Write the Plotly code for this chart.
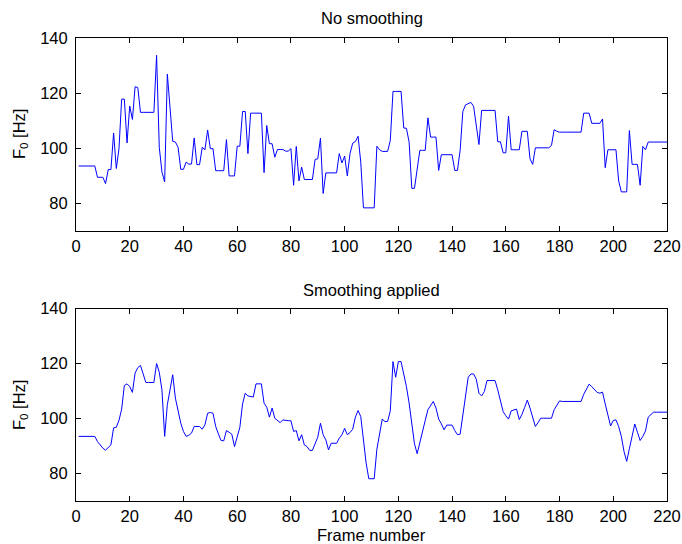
import plotly.graph_objects as go

frames = list(range(1, 221))

f0_raw = [
    93.5, 93.5, 93.5, 93.5, 93.5, 93.5, 93.5, 89.4, 89.4, 89.4,
    87.1, 92.2, 92.2, 105.5, 92.6, 99.8, 117.8, 117.8, 101.9, 115.3,
    110.4, 122.3, 122.0, 113, 113, 113, 113, 113, 113, 133.7,
    100.3, 91.3, 87.7, 126.9, 116, 102.5, 102.2, 100.3, 92.3, 92.3,
    94.9, 94.2, 94.2, 103.7, 94, 94, 100.3, 99.4, 106.6, 99.8,
    99.8, 91.8, 91.8, 91.8, 91.8, 103.1, 89.9, 89.9, 89.9, 100.7,
    100.7, 113.3, 113.3, 98, 112.7, 112.7, 112.7, 112.7, 112.7, 91.1,
    108.2, 101.6, 101.6, 96.7, 99.5, 99.5, 99.5, 98.9, 98.9, 99.8,
    86.5, 100.6, 88.1, 93.1, 88.6, 88.6, 88.6, 88.6, 95.9, 96.1,
    103.6, 83.5, 91, 91, 91, 91, 91, 98, 94.6, 97.1,
    89.9, 98, 101.8, 102.4, 104.3, 94.9, 78.3, 78.3, 78.3, 78.3,
    78.3, 100.7, 99.4, 98.8, 98.8, 98.8, 102.8, 120.6, 120.6, 120.6,
    120.6, 107.3, 107.2, 102.2, 85.4, 85.4, 92.3, 99.2, 99.2, 99.2,
    111, 104, 104, 104, 91.9, 97.6, 97.6, 97.6, 97.6, 97.6,
    91.9, 91.9, 99.2, 113.3, 115.7, 116.3, 116.6, 115.2, 108.8, 101.3,
    113.7, 113.7, 113.7, 113.7, 113.7, 113.7, 102.3, 102.3, 98.3, 98.3,
    111.6, 99.4, 99.4, 99.4, 99.4, 106.1, 106.1, 106.1, 96.1, 94.1,
    100.1, 100.1, 100.1, 100.1, 100.1, 100.1, 101, 106.7, 106.1, 105.8,
    105.8, 105.8, 105.8, 105.8, 105.8, 105.8, 105.8, 105.8, 112.7, 112.7,
    112.7, 109, 109, 109, 109, 110.6, 92.9, 99.4, 99.4, 99.4,
    99.4, 88.1, 84.1, 84.1, 84.1, 106.4, 94.1, 94.1, 94.1, 86.5,
    100.6, 99.4, 102.2, 102.2, 102.2, 102.2, 102.2, 102.2, 102.2, 102.2,
]

f0_smooth = [
    93.5, 93.5, 93.5, 93.5, 93.5, 93.5, 93.5, 91.6, 90.2, 89.2,
    88.5, 89.5, 90.4, 96.6, 96.8, 99.3, 103.4, 112, 112.6, 111.6,
    109.5, 116.5, 118.5, 119.3, 116.1, 113.1, 113.1, 113.1, 113.1, 120,
    116.8, 110.4, 93.5, 105, 110.7, 115.9, 107.4, 102.2, 98.3, 95.3,
    93.5, 93.9, 94.7, 97.1, 97.1, 97.1, 96.1, 97.7, 101.9, 102.2,
    101.9, 97.1, 94.4, 92, 91.9, 95.6, 95, 94.3, 89.8, 93.2,
    96.8, 105.3, 109.2, 108.2, 108, 107.8, 112.6, 112.6, 112.6, 105.6,
    104.1, 100.5, 103.8, 100.1, 99.3, 98.5, 99.5, 99.3, 99.2, 99.2,
    95.3, 95.6, 91.9, 94.1, 90.4, 89.8, 88.4, 88.4, 90.7, 93.2,
    98.3, 94.1, 92.2, 88.6, 91, 91, 91, 92.8, 94.1, 96.4,
    94.1, 94.9, 96.1, 100.5, 102.9, 100.7, 91.3, 83.8, 78.1, 78.1,
    78.1, 88.8, 94.3, 99.8, 98.9, 98.9, 102.8, 120.7, 115, 120.7,
    120.7, 116.5, 111.6, 105.6, 98.1, 90.8, 87.2, 91.6, 96.1, 99.3,
    103.2, 104.7, 106.2, 103.8, 99.8, 98.1, 95.9, 97.6, 97.6, 97.6,
    95.6, 94.1, 94.3, 101.9, 109.2, 115, 116.2, 116.2, 114.3, 109.2,
    108.2, 109.8, 113.8, 113.8, 113.8, 113.8, 110.4, 106.2, 102.5, 101,
    99.8, 102.8, 103.2, 103.4, 99.6, 101.5, 104, 106.7, 103.8, 100.1,
    97.1, 98.5, 100.1, 100.1, 100.1, 100.1, 100.1, 103.2, 105, 106.4,
    106.2, 106.2, 106.2, 106.2, 106.2, 106.2, 106.2, 106.2, 108.8, 110.7,
    112.5, 111.6, 110.7, 109.5, 109.2, 109.6, 105.3, 101.3, 97.3, 99.3,
    99.5, 97.1, 93.5, 88, 84.4, 89, 94, 98, 95, 92,
    93.5, 95.5, 100.5, 101.5, 102.3, 102.3, 102.3, 102.3, 102.3, 102.3,
]

titles = ["No smoothing", "Smoothing applied"]
x_label = "Frame number"
y_label = "F<sub>0</sub> [Hz]"
x_ticks = [0, 20, 40, 60, 80, 100, 120, 140, 160, 180, 200, 220]
y_ticks = [80, 100, 120, 140]

FONT = "Liberation Sans, Arial, Helvetica, sans-serif"
FS = 16.5

fig = go.Figure()
fig.add_trace(go.Scatter(x=frames, y=f0_raw, mode="lines",
                         line=dict(color="#0000ff", width=1), xaxis="x", yaxis="y"))
fig.add_trace(go.Scatter(x=frames, y=f0_smooth, mode="lines",
                         line=dict(color="#0000ff", width=1), xaxis="x2", yaxis="y2"))

W, H = 682, 544
ml, mr, mt, mb = 76, 15, 38, 43
ph = H - mt - mb
top_dom = [(501 - 230.7) / ph, 1.0]
bot_dom = [0.0, (501 - 308.5) / ph]

axis_common = dict(
    showline=True, linecolor="black", linewidth=1, mirror="ticks",
    ticks="inside", ticklen=5, tickwidth=1, tickcolor="black",
    showgrid=False, zeroline=False, automargin=False,
    tickfont=dict(family=FONT, size=FS, color="black"),
)

fig.update_layout(
    template="none",
    width=W, height=H,
    margin=dict(l=ml, r=mr, t=mt, b=mb, autoexpand=False),
    paper_bgcolor="white", plot_bgcolor="white",
    showlegend=False,
    xaxis=dict(domain=[0, 1], anchor="y", range=[0, 220], tickvals=x_ticks,
               ticklabelstandoff=0, **axis_common),
    yaxis=dict(domain=top_dom, anchor="x", range=[70, 140], tickvals=y_ticks,
               ticklabelstandoff=4, **axis_common),
    xaxis2=dict(domain=[0, 1], anchor="y2", range=[0, 220], tickvals=x_ticks,
                ticklabelstandoff=0, **axis_common),
    yaxis2=dict(domain=bot_dom, anchor="x2", range=[70, 140], tickvals=y_ticks,
                ticklabelstandoff=4, **axis_common),
)

def py(pix):
    return (H - mb - pix) / ph

def px(pix):
    return (pix - ml) / (W - ml - mr)

anns = [
    dict(text=titles[0], x=0.5, y=py(18), xref="paper", yref="paper",
         xanchor="center", yanchor="middle", showarrow=False,
         font=dict(family=FONT, size=FS, color="black")),
    dict(text=titles[1], x=0.5, y=py(290), xref="paper", yref="paper",
         xanchor="center", yanchor="middle", showarrow=False,
         font=dict(family=FONT, size=FS, color="black")),
    dict(text=x_label, x=0.5, y=py(535), xref="paper", yref="paper",
         xanchor="center", yanchor="middle", showarrow=False, borderpad=0,
         font=dict(family=FONT, size=FS, color="black")),
    dict(text=y_label, x=px(20), y=py(134), xref="paper", yref="paper",
         xanchor="center", yanchor="middle", showarrow=False, textangle=-90,
         font=dict(family=FONT, size=FS, color="black")),
    dict(text=y_label, x=px(20), y=py(405), xref="paper", yref="paper",
         xanchor="center", yanchor="middle", showarrow=False, textangle=-90,
         font=dict(family=FONT, size=FS, color="black")),
]
fig.update_layout(annotations=anns)

fig.write_html("out.html")
